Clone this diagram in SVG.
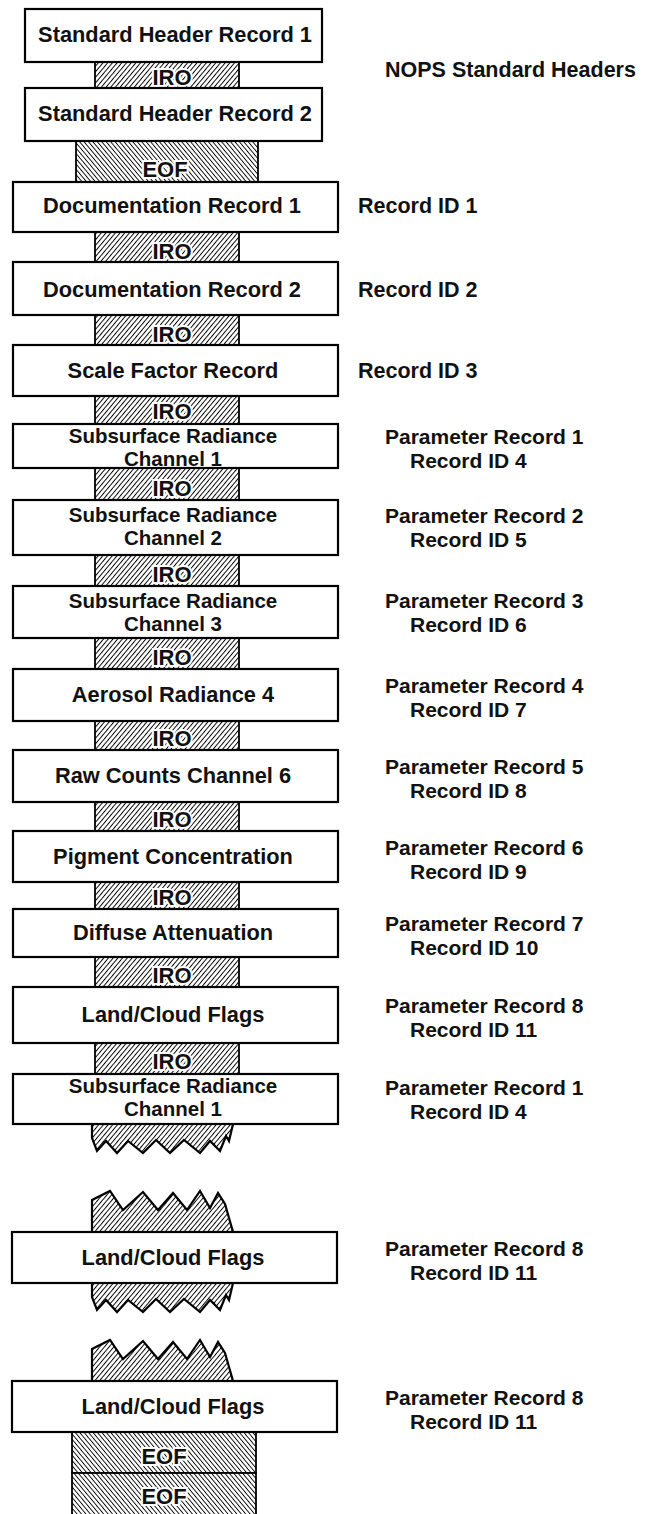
<svg xmlns="http://www.w3.org/2000/svg" width="647" height="1514" viewBox="0 0 647 1514">
<defs>
<pattern id="hf" width="3.6" height="4" patternUnits="userSpaceOnUse" patternTransform="rotate(40)">
<rect width="3.6" height="4" fill="#fff"/>
<line x1="0" y1="0" x2="0" y2="4" stroke="#000" stroke-width="1.9"/>
</pattern>
<pattern id="hb" width="3.4" height="4" patternUnits="userSpaceOnUse" patternTransform="rotate(-40)">
<rect width="3.4" height="4" fill="#fff"/>
<line x1="0" y1="0" x2="0" y2="4" stroke="#000" stroke-width="1.8"/>
</pattern>
<path id="tornDown" d="M92,0 L92,14 L97,27 L106,17 L117,29 L128,17 L143,29 L156,16 L170,29 L184,16 L200,29 L210,17 L220,27 L226,12 L229,17 L233,0 Z"/>
<path id="tornUp" d="M92,0 L92,-32 L110,-41 L123,-22 L143,-40 L158,-22 L173,-39 L187,-22 L200,-41 L210,-24 L218,-39 L225,-28 L233,0 Z"/>
</defs>
<style>
.box{fill:#fff;stroke:#000;stroke-width:2.2}
.iro{fill:url(#hf);stroke:#000;stroke-width:1.8}
.eof{fill:url(#hb);stroke:#000;stroke-width:1.8}
.torn{fill:url(#hf);stroke:#000;stroke-width:2.2}
.t{font-family:"Liberation Sans",Arial,sans-serif;font-weight:bold;font-size:21.8px;fill:#111;text-anchor:middle}
.t2{font-family:"Liberation Sans",Arial,sans-serif;font-weight:bold;font-size:20.5px;fill:#111;text-anchor:middle}
.h{font-family:"Liberation Sans",Arial,sans-serif;font-weight:bold;font-size:22px;fill:#111;text-anchor:middle;stroke:#fff;stroke-width:4;paint-order:stroke}
.l{font-family:"Liberation Sans",Arial,sans-serif;font-weight:bold;font-size:21.5px;fill:#111}
.l2{font-family:"Liberation Sans",Arial,sans-serif;font-weight:bold;font-size:21px;fill:#111}
</style>

<g id="separators">
<g id="iro1"><rect class="iro" x="95" y="62" width="144" height="26"/><text class="h" x="172" y="85">IRO</text></g>
<g id="eof1"><rect class="eof" x="76" y="141" width="182" height="41"/><text class="h" x="165" y="177">EOF</text></g>
<g id="iro2"><rect class="iro" x="95" y="232" width="144" height="30"/><text class="h" x="172" y="259">IRO</text></g>
<g id="iro3"><rect class="iro" x="95" y="315" width="144" height="30"/><text class="h" x="172" y="342">IRO</text></g>
<g id="iro4"><rect class="iro" x="95" y="396" width="144" height="28"/><text class="h" x="172" y="419">IRO</text></g>
<g id="iro5"><rect class="iro" x="95" y="468" width="144" height="32"/><text class="h" x="172" y="496">IRO</text></g>
<g id="iro6"><rect class="iro" x="95" y="555" width="144" height="31"/><text class="h" x="172" y="582">IRO</text></g>
<g id="iro7"><rect class="iro" x="95" y="638" width="144" height="31"/><text class="h" x="172" y="665">IRO</text></g>
<g id="iro8"><rect class="iro" x="95" y="721" width="144" height="29"/><text class="h" x="172" y="746">IRO</text></g>
<g id="iro9"><rect class="iro" x="95" y="802" width="144" height="29"/><text class="h" x="172" y="827">IRO</text></g>
<g id="iro10"><rect class="iro" x="95" y="882" width="144" height="27"/><text class="h" x="172" y="905">IRO</text></g>
<g id="iro11"><rect class="iro" x="95" y="957" width="144" height="30"/><text class="h" x="172" y="983">IRO</text></g>
<g id="iro12"><rect class="iro" x="95" y="1043" width="144" height="31"/><text class="h" x="172" y="1069">IRO</text></g>
<g id="torn1"><use href="#tornDown" class="torn" transform="translate(0,1124)"/></g>
<g id="torn2"><use href="#tornUp" class="torn" transform="translate(0,1232)"/></g>
<g id="torn3"><use href="#tornDown" class="torn" transform="translate(0,1283)"/></g>
<g id="torn4"><use href="#tornUp" class="torn" transform="translate(0,1381)"/></g>
<g id="eof2"><rect class="eof" x="72" y="1432" width="184" height="41"/><text class="h" x="164" y="1464">EOF</text></g>
<g id="eof3"><rect class="eof" x="72" y="1473" width="184" height="43"/><text class="h" x="164" y="1504">EOF</text></g>
</g>

<g id="hdr1"><rect class="box" x="25" y="9" width="297" height="53"/><text class="t" x="175" y="42">Standard Header Record 1</text></g>
<g id="hdr2"><rect class="box" x="25" y="88" width="297" height="53"/><text class="t" x="175" y="121">Standard Header Record 2</text></g>
<g id="doc1"><rect class="box" x="13" y="182" width="325" height="50"/><text class="t" x="172" y="213">Documentation Record 1</text></g>
<g id="doc2"><rect class="box" x="13" y="262" width="325" height="53"/><text class="t" x="172" y="297">Documentation Record 2</text></g>
<g id="scale"><rect class="box" x="13" y="345" width="325" height="51"/><text class="t" x="173" y="378">Scale Factor Record</text></g>
<g id="sub1"><rect class="box" x="13" y="424" width="325" height="44"/><text class="t2"><tspan x="173" y="442.5">Subsurface Radiance</tspan><tspan x="173" y="465.5">Channel 1</tspan></text></g>
<g id="sub2"><rect class="box" x="13" y="500" width="325" height="55"/><text class="t2"><tspan x="173" y="522">Subsurface Radiance</tspan><tspan x="173" y="545">Channel 2</tspan></text></g>
<g id="sub3"><rect class="box" x="13" y="586" width="325" height="52"/><text class="t2"><tspan x="173" y="608">Subsurface Radiance</tspan><tspan x="173" y="631">Channel 3</tspan></text></g>
<g id="aerosol"><rect class="box" x="13" y="669" width="325" height="52"/><text class="t" x="173" y="702">Aerosol Radiance 4</text></g>
<g id="raw"><rect class="box" x="13" y="750" width="325" height="52"/><text class="t" x="173" y="783">Raw Counts Channel 6</text></g>
<g id="pigment"><rect class="box" x="13" y="831" width="325" height="51"/><text class="t" x="173" y="864">Pigment Concentration</text></g>
<g id="diffuse"><rect class="box" x="13" y="909" width="325" height="48"/><text class="t" x="173" y="940">Diffuse Attenuation</text></g>
<g id="land1"><rect class="box" x="13" y="987" width="325" height="56"/><text class="t" x="173" y="1022">Land/Cloud Flags</text></g>
<g id="sub4"><rect class="box" x="13" y="1074" width="325" height="50"/><text class="t2"><tspan x="173" y="1093">Subsurface Radiance</tspan><tspan x="173" y="1116">Channel 1</tspan></text></g>
<g id="land2"><rect class="box" x="12" y="1232" width="325" height="51"/><text class="t" x="173" y="1265">Land/Cloud Flags</text></g>
<g id="land3"><rect class="box" x="12" y="1381" width="325" height="51"/><text class="t" x="173" y="1414">Land/Cloud Flags</text></g>

<g id="labels">
<text class="l" x="385" y="77">NOPS Standard Headers</text>
<text class="l" x="358" y="213">Record ID 1</text>
<text class="l" x="358" y="297">Record ID 2</text>
<text class="l" x="358" y="378">Record ID 3</text>
<text class="l2"><tspan x="385" y="444">Parameter Record 1</tspan><tspan x="410" y="467.5">Record ID 4</tspan></text>
<text class="l2"><tspan x="385" y="523">Parameter Record 2</tspan><tspan x="410" y="546.5">Record ID 5</tspan></text>
<text class="l2"><tspan x="385" y="608">Parameter Record 3</tspan><tspan x="410" y="631.5">Record ID 6</tspan></text>
<text class="l2"><tspan x="385" y="693">Parameter Record 4</tspan><tspan x="410" y="716.5">Record ID 7</tspan></text>
<text class="l2"><tspan x="385" y="774">Parameter Record 5</tspan><tspan x="410" y="797.5">Record ID 8</tspan></text>
<text class="l2"><tspan x="385" y="855">Parameter Record 6</tspan><tspan x="410" y="878.5">Record ID 9</tspan></text>
<text class="l2"><tspan x="385" y="931">Parameter Record 7</tspan><tspan x="410" y="954.5">Record ID 10</tspan></text>
<text class="l2"><tspan x="385" y="1013">Parameter Record 8</tspan><tspan x="410" y="1036.5">Record ID 11</tspan></text>
<text class="l2"><tspan x="385" y="1095">Parameter Record 1</tspan><tspan x="410" y="1118.5">Record ID 4</tspan></text>
<text class="l2"><tspan x="385" y="1256">Parameter Record 8</tspan><tspan x="410" y="1279.5">Record ID 11</tspan></text>
<text class="l2"><tspan x="385" y="1405">Parameter Record 8</tspan><tspan x="410" y="1428.5">Record ID 11</tspan></text>
</g>
</svg>
